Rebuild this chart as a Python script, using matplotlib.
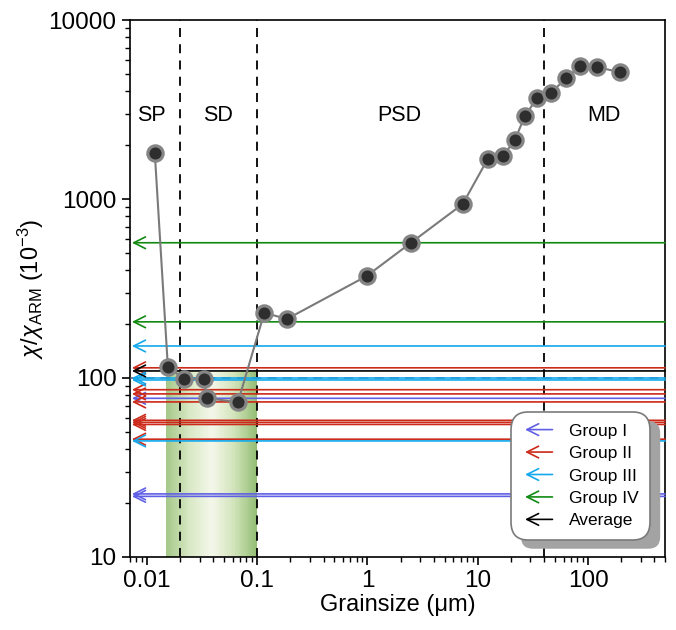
import numpy as np
import matplotlib
matplotlib.use('Agg')
import matplotlib.pyplot as plt
from matplotlib.colors import LinearSegmentedColormap
from matplotlib.patches import FancyArrowPatch, FancyBboxPatch
from matplotlib.legend_handler import HandlerBase
from matplotlib.lines import Line2D
from matplotlib.transforms import IdentityTransform

plt.rcParams['font.family'] = ['Liberation Sans', 'DejaVu Sans']
plt.rcParams['mathtext.fontset'] = 'custom'
plt.rcParams['mathtext.rm'] = 'Liberation Sans'
plt.rcParams['mathtext.it'] = 'Liberation Sans:italic'

# grain size curve
grain = [0.0118, 0.0155, 0.0217, 0.033, 0.035, 0.067, 0.116, 0.187, 0.98, 2.46,
         7.3, 12.3, 16.9, 21.7, 26.7, 34.4, 46, 63, 85, 121, 195]
ratio = [1800, 115, 99, 99, 77, 73.5, 231, 214, 371, 568,
         938, 1673, 1740, 2140, 2910, 3660, 3910, 4740, 5530, 5460, 5120]

# measured group values (horizontal arrows)
group1 = [77, 22.5, 21.8]
group2 = [114, 86, 81.5, 73.5, 58, 56.5, 55, 45.5]
group3 = [151, 100, 97.5, 44.5]
group4 = [570, 206]
average = [109.5]

group_names = ['Group I', 'Group II', 'Group III', 'Group IV', 'Average']
group_colors = ['#6060e6', '#cc2a1a', '#14a8ec', '#128a12', '#000000']

boundaries = [0.02, 0.1, 40]
domains = ['SP', 'SD', 'PSD', 'MD']
domain_x = [0.011, 0.044, 1.95, 140]
domain_y = 2950
sd_band = (0.015, 0.1, 10, 110)
ref_line = 100.3

xticks = [0.01, 0.1, 1, 10, 100]
xticklabels = ['0.01', '0.1', '1', '10', '100']
yticks = [10, 100, 1000, 10000]
yticklabels = ['10', '100', '1000', '10000']

fig = plt.figure(figsize=(6.76, 6.30), dpi=100)
ax = fig.add_axes([0.192, 0.116, 0.792, 0.852])
ax.set_xscale('log')
ax.set_yscale('log')
ax.set_xlim(0.007, 500)
ax.set_ylim(10, 10000)

# green gradient band for SD range
cmap = LinearSegmentedColormap.from_list('band', ['#a6c98a', '#d8e8c4', '#f4f7ea', '#d2e4bb', '#93bd74'])
xe = np.logspace(np.log10(sd_band[0]), np.log10(sd_band[1]), 80)
c = np.linspace(0, 1, len(xe) - 1).reshape(1, -1)
ax.pcolormesh(xe, [sd_band[2], sd_band[3]], c, cmap=cmap, shading='flat', zorder=1)

for b in boundaries:
    ax.axvline(b, color='black', lw=1.3, dashes=(5, 4), zorder=2)

for name, xx in zip(domains, domain_x):
    ax.text(xx, domain_y, name, ha='center', va='center', fontsize=15.5)


def hline_arrow(y, color, lw=1.2):
    ax.annotate('', xy=(0.004, y), xycoords=('axes fraction', 'data'),
                xytext=(1.0, y), textcoords=('axes fraction', 'data'),
                arrowprops=dict(arrowstyle='->,head_length=0.7,head_width=0.35',
                                color=color, lw=lw, mutation_scale=12,
                                shrinkA=0, shrinkB=0),
                zorder=3, annotation_clip=False)


ax.axhline(ref_line, color='#3d5a80', lw=1.1, dashes=(6, 4), zorder=3)
for vals, col in zip([group1, group2, group3, group4, average], group_colors):
    for v in vals:
        hline_arrow(v, col)

ax.plot(grain, ratio, color='#7a7a7a', lw=1.5, zorder=4)
ax.plot(grain, ratio, 'o', ms=11, mfc='#2e2e2e', mec='#858585', mew=2.3, zorder=5)

ax.set_xticks(xticks)
ax.set_xticklabels(xticklabels)
ax.set_yticks(yticks)
ax.set_yticklabels(yticklabels)
ax.tick_params(which='major', direction='out', length=6, width=1.2, labelsize=17.5, top=False, right=False)
ax.tick_params(which='minor', direction='out', length=3.5, width=1.0, top=False, right=False)
for s in ax.spines.values():
    s.set_linewidth(1.2)

ax.set_xlabel('Grainsize (\u03bcm)', fontsize=17, labelpad=1)
ax.set_ylabel(r'$\chi/\chi_{\rm ARM}$ (10$^{-3}$)', fontsize=17, labelpad=2)


class ArrowHandler(HandlerBase):
    def create_artists(self, legend, orig_handle, xdescent, ydescent, width, height, fontsize, trans):
        a = FancyArrowPatch((width, height / 2), (0, height / 2),
                            arrowstyle='->,head_length=0.7,head_width=0.35', mutation_scale=12,
                            color=orig_handle.get_color(), lw=1.2, transform=trans)
        return [a]


handles = [Line2D([], [], color=c_) for c_ in group_colors]
leg = ax.legend(handles, group_names, handler_map={Line2D: ArrowHandler()},
                loc='lower right', bbox_to_anchor=(0.972, 0.032), borderaxespad=0,
                fontsize=12.5, handlelength=1.9, handletextpad=0.8, labelspacing=0.42,
                borderpad=0.65, framealpha=1, fancybox=True)
frame = leg.get_frame()
frame.set_edgecolor('#7a7a7a')
frame.set_linewidth(1.2)
frame.set_boxstyle('round,pad=0,rounding_size=1.0')

fig.canvas.draw()
bb = frame.get_window_extent(fig.canvas.get_renderer())
shadow = FancyBboxPatch((bb.x0 + 10, bb.y0 - 9), bb.width, bb.height,
                        boxstyle='round,pad=0,rounding_size=12',
                        transform=IdentityTransform(), facecolor='#a3a3a3',
                        edgecolor='none', zorder=4.8, clip_on=False)
ax.add_patch(shadow)

fig.savefig('out.png', dpi=100)
